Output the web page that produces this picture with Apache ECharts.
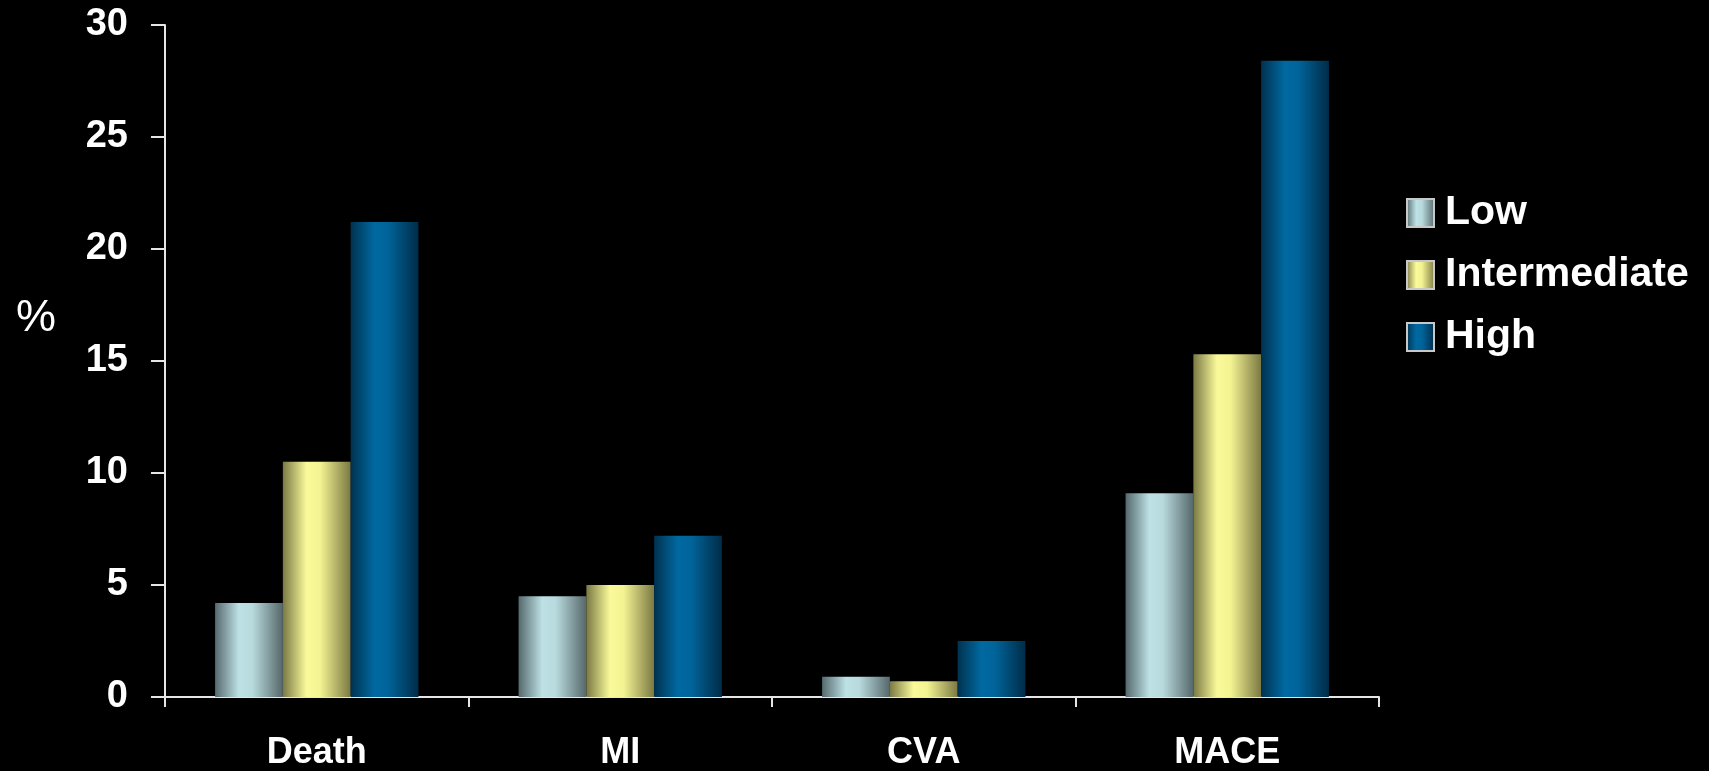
<!DOCTYPE html>
<html>
<head>
<meta charset="utf-8">
<title>Event rates by risk group</title>
<script src="https://cdn.jsdelivr.net/npm/echarts@6/dist/echarts.min.js"></script>
<style>
  html, body { margin: 0; padding: 0; background: #000; }
  #chart { width: 1709px; height: 771px; }
</style>
</head>
<body>
<div id="chart"></div>
<script>
// Outcome categories along the x axis
const categories = ['Death', 'MI', 'CVA', 'MACE'];

// Event rates (%) per risk group
const lowRisk = [4.2, 4.5, 0.9, 9.1];
const intermediateRisk = [10.5, 5.0, 0.7, 15.3];
const highRisk = [21.2, 7.2, 2.5, 28.4];

const seriesNames = ['Low', 'Intermediate', 'High'];

// Value axis range
const yMin = 0;
const yMax = 30;
const yStep = 5;

const FONT = '"Liberation Sans", Arial, Helvetica, sans-serif';

// Horizontal shading so each bar looks like a lit cylinder
function shade(edgeL, mid1, mid2, edgeR) {
  return new echarts.graphic.LinearGradient(0, 0, 1, 0, [
    { offset: 0, color: edgeL },
    { offset: 0.35, color: mid1 },
    { offset: 0.55, color: mid2 },
    { offset: 1, color: edgeR }
  ]);
}

const fills = [
  shade('#55696d', '#bde1e5', '#b8dadd', '#56686b'),
  shade('#7a7944', '#fafa9a', '#f3f392', '#7b7942'),
  shade('#00324f', '#0069a1', '#00649a', '#002c48')
];

const chart = echarts.init(document.getElementById('chart'), null, { renderer: 'canvas' });

const seriesData = [lowRisk, intermediateRisk, highRisk];

chart.setOption({
  backgroundColor: '#000000',
  animation: false,
  grid: { left: 165, right: 330, top: 25, bottom: 73, containLabel: false },
  legend: {
    orient: 'vertical',
    left: 1401,
    top: 186,
    itemWidth: 27,
    itemHeight: 28,
    itemGap: 18,
    selectedMode: false,
    icon: 'rect',
    data: seriesNames,
    itemStyle: { borderColor: '#c8c8c8', borderWidth: 2 },
    textStyle: {
      color: '#ffffff',
      fontFamily: FONT,
      fontWeight: 'bold',
      fontSize: 41,
      lineHeight: 44,
      padding: [0, 0, 0, 6]
    }
  },
  xAxis: {
    type: 'category',
    data: categories,
    boundaryGap: true,
    axisLine: { show: true, lineStyle: { color: '#e6e6e6', width: 2 } },
    axisTick: { show: true, length: 10, inside: false, lineStyle: { color: '#e6e6e6', width: 2 } },
    axisLabel: {
      color: '#ffffff',
      fontFamily: FONT,
      fontWeight: 'bold',
      fontSize: 36,
      margin: 38
    },
    splitLine: { show: false }
  },
  yAxis: {
    type: 'value',
    min: yMin,
    max: yMax,
    interval: yStep,
    axisLine: { show: true, lineStyle: { color: '#e6e6e6', width: 2 } },
    axisTick: { show: true, length: 14, inside: false, lineStyle: { color: '#e6e6e6', width: 2 } },
    axisLabel: {
      color: '#ffffff',
      fontFamily: FONT,
      fontWeight: 'bold',
      fontSize: 38,
      margin: 37
    },
    splitLine: { show: false }
  },
  graphic: [{
    type: 'text',
    left: 16,
    top: 296,
    style: {
      text: '%',
      fill: '#ffffff',
      font: '45px ' + FONT
    }
  }],
  series: seriesNames.map((name, i) => ({
    name: name,
    type: 'bar',
    data: seriesData[i],
    barGap: '0%',
    barCategoryGap: '33%',
    itemStyle: { color: fills[i] }
  }))
});
</script>
</body>
</html>
